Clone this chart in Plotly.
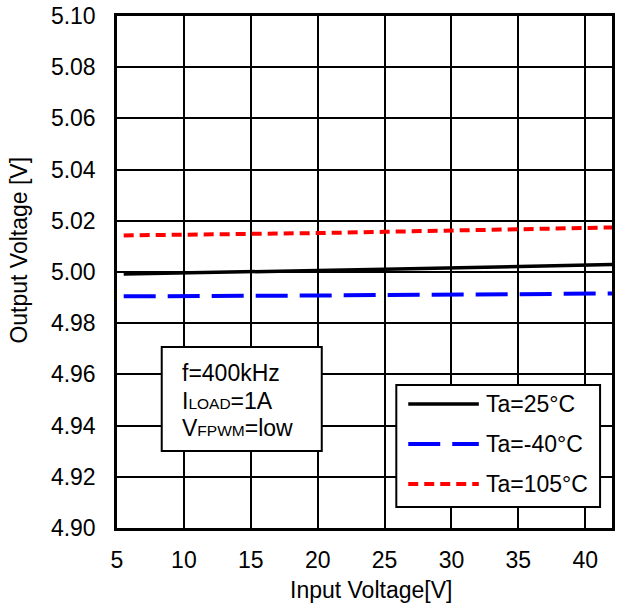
import plotly.graph_objects as go

# ---- data ----
vin = [5.5, 8, 10, 12, 15, 20, 25, 30, 35, 40, 42]
vout_25 = [4.9992, 4.9994, 4.9997, 4.9998, 5.0000, 5.0006, 5.0011, 5.0016, 5.0022, 5.0025, 5.0029]
vout_m40 = [4.9905, 4.9905, 4.9906, 4.9906, 4.9907, 4.9908, 4.9910, 4.9911, 4.9913, 4.9915, 4.9916]
vout_105 = [5.0143, 5.0144, 5.0145, 5.0146, 5.0148, 5.0152, 5.0157, 5.0162, 5.0167, 5.0172, 5.0174]

series_names = ["Ta=25°C", "Ta=-40°C", "Ta=105°C"]
x_ticks = [5, 10, 15, 20, 25, 30, 35, 40]
info_lines = [
    "f=400kHz",
    "I<span style='font-size:15.5px'>LOAD</span>=1A",
    "V<span style='font-size:15.5px'>FPWM</span>=low",
]
x_title = "Input Voltage[V]"
y_title = "Output Voltage [V]"

FONT = "Liberation Sans, Arial, sans-serif"
FS = 23
styles = [
    dict(color="black", width=3.5, dash="solid"),
    dict(color="#0000ff", width=4, dash="32px,12px"),
    dict(color="#ff0000", width=4, dash="10px,6px"),
]

fig = go.Figure()
for name, ys, st in zip(series_names, [vout_25, vout_m40, vout_105], styles):
    fig.add_trace(go.Scatter(x=vin, y=ys, mode="lines", name=name, line=st, showlegend=False))

# plot area in pixels
L, R, T, B = 117, 615, 16, 528
W, H = R - L, B - T

def px(xp):
    return (xp - L) / W

def py(yp):
    return (B - yp) / H

shapes = []
annotations = []

# info box
shapes.append(dict(type="rect", xref="paper", yref="paper",
                   x0=px(162), x1=px(323), y0=py(451), y1=py(347),
                   line=dict(color="black", width=2), fillcolor="white", layer="above"))
for txt, yy in zip(info_lines, [373, 401, 428]):
    annotations.append(dict(xref="paper", yref="paper", x=px(180), y=py(yy), text=txt,
                            showarrow=False, xanchor="left", yanchor="middle",
                            font=dict(family=FONT, size=FS, color="black")))

# legend box
shapes.append(dict(type="rect", xref="paper", yref="paper",
                   x0=px(398), x1=px(603), y0=py(507), y1=py(385),
                   line=dict(color="black", width=2), fillcolor="white", layer="above"))
for name, st, yy in zip(series_names, styles, [404, 444, 484]):
    shapes.append(dict(type="line", xref="paper", yref="paper",
                       x0=px(410), x1=px(481), y0=py(yy), y1=py(yy),
                       line=st, layer="above"))
    annotations.append(dict(xref="paper", yref="paper", x=px(486), y=py(yy), text=name,
                            showarrow=False, xanchor="left", yanchor="middle",
                            font=dict(family=FONT, size=FS, color="black")))

# axis titles
annotations.append(dict(xref="paper", yref="paper", x=px(373), y=py(590), text=x_title,
                        showarrow=False, xanchor="center", yanchor="middle",
                        font=dict(family=FONT, size=FS, color="black")))
annotations.append(dict(xref="paper", yref="paper", x=px(18), y=py(250), text=y_title,
                        showarrow=False, xanchor="center", yanchor="middle", textangle=-90,
                        font=dict(family=FONT, size=FS, color="black")))

fig.update_layout(
    width=617, height=610,
    margin=dict(l=L, r=617 - R, t=T, b=610 - B),
    paper_bgcolor="white", plot_bgcolor="white",
    font=dict(family=FONT, size=FS, color="black"),
    shapes=shapes, annotations=annotations,
    showlegend=False,
)
fig.update_xaxes(
    range=[5, 42], tickvals=x_ticks, ticktext=[str(v) for v in x_ticks],
    showgrid=True, gridcolor="black", gridwidth=1.5,
    showline=True, linecolor="black", linewidth=2.5, mirror=True,
    ticks="", zeroline=False, ticklabelstandoff=10,
    tickfont=dict(size=FS),
)
fig.update_yaxes(
    range=[4.90, 5.10], dtick=0.02, tick0=4.90, tickformat=".2f",
    showgrid=True, gridcolor="black", gridwidth=1.5,
    showline=True, linecolor="black", linewidth=2.5, mirror=True,
    ticks="", zeroline=False, ticklabelstandoff=14,
    tickfont=dict(size=FS),
)

fig.write_html("out.html", config={"displayModeBar": False},
               post_script="document.body.style.margin='0';document.body.style.overflow='hidden';")
